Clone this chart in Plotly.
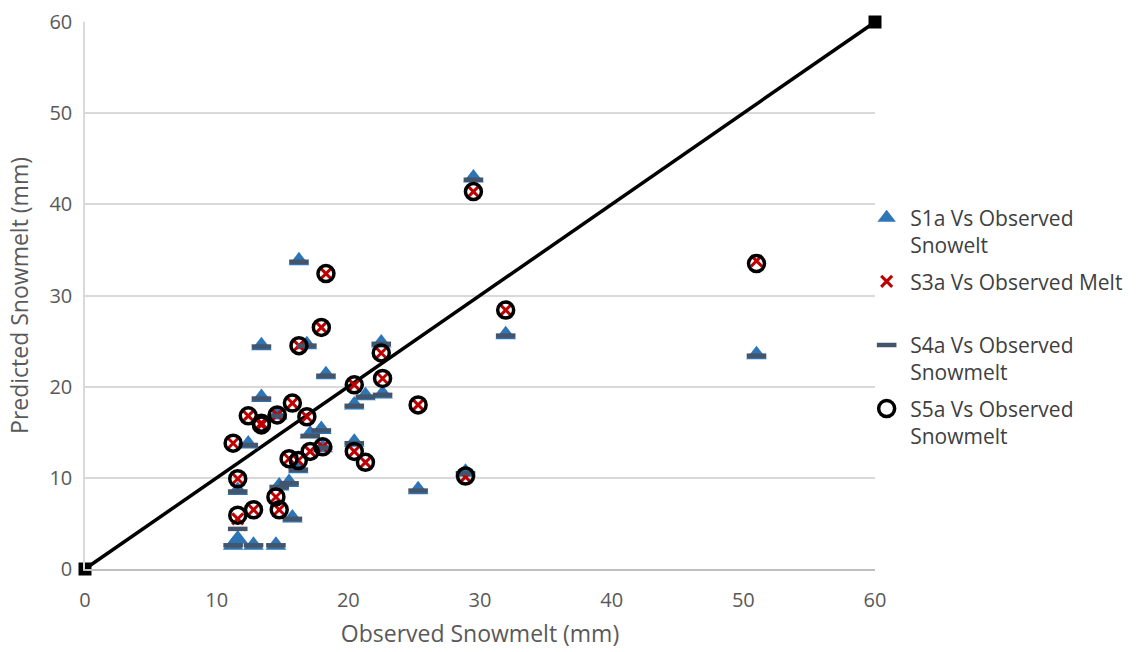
import plotly.graph_objects as go

observed = [11.25, 11.6, 11.6, 12.4, 12.8, 13.4, 13.4, 14.5, 14.6, 14.75,
            15.5, 15.75, 16.2, 16.25, 16.85, 17.1, 17.95, 18.05, 18.3, 20.45,
            20.45, 21.3, 22.5, 22.6, 25.3, 28.9, 29.5, 31.95, 51.0]
s1a = [2.6, 8.6, 3.3, 13.7, 2.6, 24.5, 18.8, 2.6, 16.9, 9.1,
       9.5, 5.6, 11.0, 33.8, 24.6, 14.8, 15.3, 13.3, 21.3, 18.0,
       13.9, 19.0, 24.8, 19.2, 8.7, 10.6, 42.9, 25.7, 23.5]
s4a = [2.6, 8.5, 4.4, 13.6, 2.6, 24.4, 18.7, 2.6, 16.8, 9.0,
       9.4, 5.5, 10.9, 33.7, 24.5, 14.6, 15.2, 13.3, 21.2, 17.9,
       13.8, 18.9, 24.7, 19.1, 8.6, 10.5, 42.7, 25.6, 23.4]
s3a = [13.8, 9.9, 5.5, 16.8, 6.5, 16.0, 15.8, 7.9, 16.9, 6.5,
       12.1, 18.2, 11.9, 24.5, 16.7, 12.9, 26.5, 13.4, 32.4, 20.2,
       12.9, 11.7, 23.7, 20.9, 18.0, 10.1, 41.4, 28.4, 33.8]
s5a = [13.8, 9.9, 5.9, 16.8, 6.5, 16.0, 15.8, 7.9, 16.9, 6.5,
       12.1, 18.2, 11.9, 24.5, 16.7, 12.9, 26.5, 13.4, 32.4, 20.2,
       12.9, 11.7, 23.7, 20.9, 18.0, 10.2, 41.4, 28.4, 33.5]
line_x = [0, 60]
line_y = [0, 60]
tick_vals = [0, 10, 20, 30, 40, 50, 60]

FONT = "Open Sans"
GREY = "#595959"

fig = go.Figure()

fig.add_trace(go.Scatter(
    x=line_x, y=line_y, mode="lines+markers", showlegend=False,
    line=dict(color="black", width=3.5),
    marker=dict(symbol="square", size=13, color="black"),
    cliponaxis=False, hoverinfo="skip"))

fig.add_trace(go.Scatter(
    x=observed, y=s1a, mode="markers", name="S1a Vs Observed<br>Snowelt",
    legendgroup="g1",
    marker=dict(symbol="triangle-up", size=18, color="#2E75B6",
                line=dict(width=0))))

fig.add_trace(go.Scatter(
    x=observed, y=s3a, mode="markers", name="S3a Vs Observed Melt<br> ",
    legendgroup="g2",
    marker=dict(symbol="x-thin", size=11, color="#C00000",
                line=dict(width=3, color="#C00000"))))

fig.add_trace(go.Scatter(
    x=observed, y=s4a, mode="markers", name="S4a Vs Observed<br>Snowmelt",
    legendgroup="g3",
    marker=dict(symbol="line-ew", size=14, color="#44546A",
                line=dict(width=4.5, color="#44546A"))))

fig.add_trace(go.Scatter(
    x=observed, y=s5a, mode="markers", name="S5a Vs Observed<br>Snowmelt",
    legendgroup="g4",
    marker=dict(symbol="circle-open", size=16, color="black",
                line=dict(width=3.5, color="black"))))

fig.update_layout(
    width=1140, height=652,
    margin=dict(l=85, r=265, t=22, b=83, autoexpand=False),
    plot_bgcolor="white", paper_bgcolor="white",
    font=dict(family=FONT, color=GREY),
    showlegend=True,
    legend=dict(x=0.985, y=0.679, xanchor="left", yanchor="top",
                valign="top", tracegroupgap=6, itemwidth=37,
                font=dict(family=FONT, size=21, color="#404040"),
                bgcolor="rgba(0,0,0,0)"),
    xaxis=dict(range=[0, 60], tickvals=tick_vals, showgrid=False,
               zeroline=False, showline=True, linecolor="#BFBFBF",
               linewidth=1.5, ticks="outside", ticklen=12,
               tickcolor="rgba(0,0,0,0)", automargin=False,
               tickfont=dict(size=20, color=GREY),
               title=dict(text="Observed Snowmelt (mm)",
                          font=dict(size=23, color=GREY), standoff=14)),
    yaxis=dict(range=[0, 60], tickvals=tick_vals, showgrid=True,
               gridcolor="#D9D9D9", gridwidth=1.5, zeroline=False,
               showline=True, linecolor="#D9D9D9", linewidth=1.5,
               ticks="outside", ticklen=7, tickcolor="rgba(0,0,0,0)",
               automargin=False,
               tickfont=dict(size=20, color=GREY),
               title=dict(text="Predicted Snowmelt (mm)",
                          font=dict(size=23, color=GREY), standoff=14)),
)

fig.write_html("out.html")
